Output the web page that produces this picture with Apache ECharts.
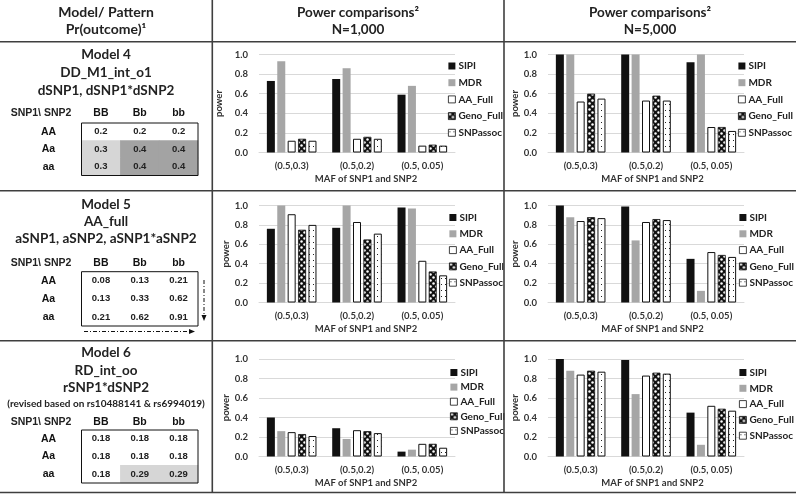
<!DOCTYPE html>
<html><head><meta charset="utf-8">
<script src="https://cdn.jsdelivr.net/npm/echarts@6/dist/echarts.min.js"></script>
<style>html,body{margin:0;padding:0;background:#fff}#c{width:796px;height:504px}</style>
</head><body><div id="c"></div>
<script>
// ---------- data ----------
const categories = ['(0.5,0.3)', '(0.5,0.2)', '(0.5, 0.05)'];
const methods = ['SIPI', 'MDR', 'AA_Full', 'Geno_Full', 'SNPassoc'];
const yTicks = [0, 0.2, 0.4, 0.6, 0.8, 1.0];

// rows follow methods order, columns follow categories
const model4_N1000 = [
  [0.73, 0.75, 0.59],
  [0.93, 0.86, 0.68],
  [0.12, 0.14, 0.07],
  [0.14, 0.16, 0.08],
  [0.12, 0.14, 0.07]
];
const model4_N5000 = [
  [1.00, 1.00, 0.92],
  [1.00, 1.00, 1.00],
  [0.52, 0.53, 0.26],
  [0.60, 0.58, 0.26],
  [0.55, 0.53, 0.22]
];
const model5_N1000 = [
  [0.76, 0.77, 0.98],
  [1.00, 1.00, 0.97],
  [0.91, 0.83, 0.43],
  [0.75, 0.65, 0.32],
  [0.80, 0.71, 0.28]
];
const model5_N5000 = [
  [1.00, 0.99, 0.45],
  [0.88, 0.64, 0.12],
  [0.84, 0.83, 0.52],
  [0.88, 0.86, 0.49],
  [0.87, 0.85, 0.47]
];
const model6_N1000 = [
  [0.40, 0.29, 0.05],
  [0.26, 0.18, 0.07],
  [0.25, 0.27, 0.13],
  [0.23, 0.26, 0.13],
  [0.21, 0.24, 0.09]
];
const model6_N5000 = [
  [1.00, 0.99, 0.45],
  [0.88, 0.64, 0.12],
  [0.84, 0.83, 0.52],
  [0.88, 0.86, 0.49],
  [0.87, 0.85, 0.47]
];

const snp2Genotypes = ['BB', 'Bb', 'bb'];
const snp1Genotypes = ['AA', 'Aa', 'aa'];
const model4Table = [[0.2, 0.2, 0.2], [0.3, 0.4, 0.4], [0.3, 0.4, 0.4]];
const model4Shade = [[0, 0, 0], [1, 2, 2], [1, 2, 2]];
const model5Table = [[0.08, 0.13, 0.21], [0.13, 0.33, 0.62], [0.21, 0.62, 0.91]];
const model5Shade = [[0, 0, 0], [0, 0, 0], [0, 0, 0]];
const model6Table = [[0.18, 0.18, 0.18], [0.18, 0.18, 0.18], [0.18, 0.29, 0.29]];
const model6Shade = [[0, 0, 0], [0, 0, 0], [0, 1, 1]];

const model4Lines = ['Model 4', 'DD_M1_int_o1', 'dSNP1, dSNP1*dSNP2'];
const model5Lines = ['Model 5', 'AA_full', 'aSNP1, aSNP2, aSNP1*aSNP2'];
const model6Lines = ['Model 6', 'RD_int_oo', 'rSNP1*dSNP2'];
const model6Note = '(revised based on rs10488141 & rs6994019)';

// ---------- styling ----------
const TITLE_FONT = 'Lato';
const TABLE_FONT = 'Liberation Sans';
const TXT = '#222222';
const AX = '#333333';
const shadeColors = ['#ffffff', '#d6d6d6', '#a3a3a3'];

function genoPattern() {
  const c = document.createElement('canvas'); c.width = 6; c.height = 6;
  const g = c.getContext('2d');
  g.fillStyle = '#111'; g.fillRect(0, 0, 6, 6);
  g.fillStyle = '#fff';
  g.beginPath(); g.arc(1.5, 1.5, 1.25, 0, Math.PI * 2); g.fill();
  g.beginPath(); g.arc(4.5, 4.5, 1.25, 0, Math.PI * 2); g.fill();
  return c;
}
function dotPattern() {
  const c = document.createElement('canvas'); c.width = 4; c.height = 6;
  const g = c.getContext('2d');
  g.fillStyle = '#fff'; g.fillRect(0, 0, 4, 6);
  g.fillStyle = '#222'; g.fillRect(1, 2, 1, 1);
  return c;
}
const methodStyles = [
  { color: '#111111' },
  { color: '#a6a6a6' },
  { color: '#ffffff', borderColor: '#111', borderWidth: 1 },
  { color: { image: genoPattern(), repeat: 'repeat' }, borderColor: '#111', borderWidth: 0.8 },
  { color: { image: dotPattern(), repeat: 'repeat' }, borderColor: '#111', borderWidth: 1 }
];

const chartData = [model4_N1000, model4_N5000, model5_N1000, model5_N5000, model6_N1000, model6_N5000];
const chartGrids = [
  { left: 259, top: 54.5, width: 196, height: 98 },
  { left: 548, top: 54.5, width: 196, height: 98 },
  { left: 259, top: 205.5, width: 196, height: 97 },
  { left: 548, top: 205.5, width: 196, height: 97 },
  { left: 259, top: 359, width: 196, height: 97.5 },
  { left: 548, top: 359, width: 196, height: 97.5 }
];
const yNameGap = [35, 27, 26, 27, 27, 26];
const legendPos = [
  { left: 448, top: 60, gap: 4.7 },
  { left: 738, top: 60, gap: 4.7 },
  { left: 449, top: 211.5, gap: 4.3 },
  { left: 739, top: 211.5, gap: 4.3 },
  { left: 450, top: 366.5, gap: 2.6 },
  { left: 739, top: 366.5, gap: 3.8 }
];

const grid = [], xAxis = [], yAxis = [], series = [], legend = [];
chartGrids.forEach((g, ci) => {
  grid.push(g);
  xAxis.push({
    type: 'category', gridIndex: ci, data: categories,
    axisLine: { lineStyle: { color: '#d9d9d9', width: 1 } },
    axisTick: { show: false },
    axisLabel: { color: AX, fontFamily: TITLE_FONT, fontWeight: 'bold', fontSize: 9.5, margin: 8 },
    name: 'MAF of SNP1 and SNP2', nameLocation: 'middle', nameGap: 21,
    nameTextStyle: { color: AX, fontFamily: TITLE_FONT, fontWeight: 'bold', fontSize: 9.5, padding: [0, 0, 0, ci % 2 ? 13 : 18] }
  });
  yAxis.push({
    type: 'value', gridIndex: ci, min: yTicks[0], max: yTicks[yTicks.length - 1], interval: 0.2,
    axisLine: { show: false }, axisTick: { show: false },
    splitLine: { lineStyle: { color: '#d9d9d9', width: 1 } },
    axisLabel: { color: AX, fontFamily: TITLE_FONT, fontWeight: 'bold', fontSize: 9.5, margin: 11,
      formatter: v => v.toFixed(1) },
    name: 'power', nameLocation: 'middle', nameGap: yNameGap[ci], nameRotate: 90,
    nameTextStyle: { color: AX, fontFamily: TITLE_FONT, fontWeight: 'bold', fontSize: 9.5 }
  });
  methods.forEach((m, mi) => {
    series.push({
      type: 'bar', name: m, xAxisIndex: ci, yAxisIndex: ci,
      data: chartData[ci][mi], barWidth: 8, barGap: '30%',
      itemStyle: methodStyles[mi], emphasis: { disabled: true }, silent: true
    });
  });
  const lp = legendPos[ci];
  legend.push({
    orient: 'vertical', left: lp.left, top: lp.top, itemWidth: 7, itemHeight: 7, itemGap: lp.gap,
    icon: 'rect', selectedMode: false, data: methods, padding: 0,
    itemStyle: { borderWidth: 0.8 },
    textStyle: { color: '#222', fontFamily: TITLE_FONT, fontWeight: 'bold', fontSize: 10, lineHeight: 12, padding: [0, 0, 0, -2] }
  });
});

// genotype tables as heatmaps
const tables = [
  { vals: model4Table, shade: model4Shade, top: 123, height: 52.5, margin: 4.5 },
  { vals: model5Table, shade: model5Shade, top: 271.7, height: 54.3, margin: 3.2 },
  { vals: model6Table, shade: model6Shade, top: 430, height: 53, margin: 2.5 }
];
const TBL_LEFT = 81.5, TBL_W = 116.5;
tables.forEach((t, ti) => {
  const gi = grid.length;
  grid.push({ left: TBL_LEFT, top: t.top, width: TBL_W, height: t.height });
  xAxis.push({
    type: 'category', gridIndex: gi, data: snp2Genotypes, position: 'top',
    axisLine: { show: false }, axisTick: { show: false }, splitLine: { show: false },
    axisLabel: { color: '#111', fontFamily: TABLE_FONT, fontWeight: 'bold', fontSize: 10.5, margin: t.margin }
  });
  yAxis.push({
    type: 'category', gridIndex: gi, data: snp1Genotypes, inverse: true,
    axisLine: { show: false }, axisTick: { show: false }, splitLine: { show: false },
    axisLabel: { color: '#111', fontFamily: TABLE_FONT, fontWeight: 'bold', fontSize: 10.5, margin: 33, align: 'center' }
  });
  const data = [];
  t.vals.forEach((row, r) => row.forEach((v, c) => {
    data.push({ value: [c, r, v], itemStyle: { color: shadeColors[t.shade[r][c]] } });
  }));
  series.push({
    type: 'heatmap', xAxisIndex: gi, yAxisIndex: gi, data, silent: true,
    emphasis: { disabled: true },
    label: { show: true, color: '#222', fontFamily: TABLE_FONT, fontWeight: 'bold', fontSize: 9.5,
      formatter: p => String(p.value[2]) }
  });
});

// ---------- decorations ----------
const graphic = [];
function text(x, y, s, size, font, weight) {
  graphic.push({ type: 'text', x, y, silent: true, z: 50,
    style: { text: s, x: 0, y: 0, align: 'center', verticalAlign: 'middle', fill: TXT,
      fontFamily: font || TITLE_FONT, fontWeight: weight || 'bold', fontSize: size } });
}
function hline(y, x1, x2) {
  graphic.push({ type: 'line', silent: true, z: 60, shape: { x1, y1: y, x2, y2: y },
    style: { stroke: '#3f3f3f', lineWidth: 1.6 } });
}
function vline(x, y1, y2) {
  graphic.push({ type: 'line', silent: true, z: 60, shape: { x1: x, y1, x2: x, y2 },
    style: { stroke: '#3f3f3f', lineWidth: 1.6 } });
}
hline(41.7, 0, 796); hline(190.7, 0, 796); hline(340.7, 0, 796); hline(492.5, 0, 796);
vline(212.3, 0, 492.5); vline(504, 0, 492.5);

text(106, 12.7, 'Model/ Pattern', 14);
text(106, 29.3, 'Pr(outcome)¹', 14);
text(358, 12.7, 'Power comparisons²', 13.5);
text(358, 29.3, 'N=1,000', 13.5);
text(650, 12.7, 'Power comparisons²', 13.5);
text(650, 29.3, 'N=5,000', 13.5);

[[model4Lines, [55, 73, 91]], [model5Lines, [205, 222, 239]], [model6Lines, [353, 370.5, 387.5]]]
  .forEach(([lines, ys]) => lines.forEach((s, i) => text(106, ys[i], s, 13.5)));
text(106, 404, model6Note, 10);

[113.5, 262.8, 421.8].forEach(y => text(41, y, 'SNP1\\ SNP2', 10.5, TABLE_FONT));
tables.forEach(t => {
  graphic.push({ type: 'rect', silent: true, z: 55,
    shape: { x: TBL_LEFT, y: t.top, width: TBL_W, height: t.height },
    style: { fill: 'none', stroke: '#111', lineWidth: 1 } });
});

// dash-dot arrows for Model 5
const dashDot = [4, 2, 1, 2];
graphic.push({ type: 'line', silent: true, z: 55, shape: { x1: 204, y1: 280, x2: 204, y2: 316 },
  style: { stroke: '#111', lineWidth: 1, lineDash: dashDot } });
graphic.push({ type: 'polygon', silent: true, z: 55, shape: { points: [[201.5, 315], [206.5, 315], [204, 321]] },
  style: { fill: '#111' } });
graphic.push({ type: 'line', silent: true, z: 55, shape: { x1: 84, y1: 331.5, x2: 190, y2: 331.5 },
  style: { stroke: '#111', lineWidth: 1, lineDash: dashDot } });
graphic.push({ type: 'polygon', silent: true, z: 55, shape: { points: [[189, 329], [189, 334], [195, 331.5]] },
  style: { fill: '#111' } });

const chart = echarts.init(document.getElementById('c'), null, { renderer: 'canvas' });
chart.setOption({
  animation: false,
  backgroundColor: '#fff',
  grid, xAxis, yAxis, series, legend, graphic
});
</script>
</body></html>
